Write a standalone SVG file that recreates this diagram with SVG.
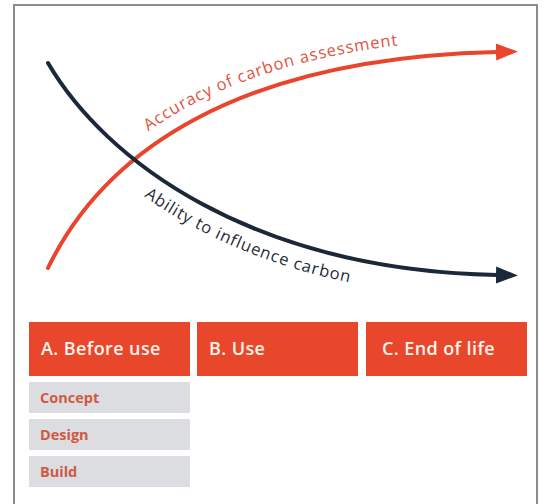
<svg xmlns="http://www.w3.org/2000/svg" width="544" height="504" viewBox="0 0 544 504">
  <style>
    .frame { fill: #ffffff; stroke: #8c8c8c; stroke-width: 2; }
    .curve { fill: none; stroke-width: 4; stroke-linecap: round; }
    .red { stroke: #e8452c; }
    .dark { stroke: #1b2838; }
    .lbl { font-family: "Open Sans", "Noto Sans", sans-serif; font-size: 16.5px; font-weight: 500; letter-spacing: 0.9px; }
    .phase { fill: #e8472b; }
    .phase-text { font-family: "Open Sans", "Noto Sans", sans-serif; font-size: 18px; font-weight: 600; letter-spacing: 0.4px; fill: #fff4ec; }
    .stage { fill: #dcdde0; }
    .stage-text { font-family: "Open Sans", "Noto Sans", sans-serif; font-size: 14.5px; font-weight: 700; fill: #cf5a44; }
  </style>
  <defs>
    <marker id="arrow-red" markerUnits="userSpaceOnUse" markerWidth="24" markerHeight="18" refX="1" refY="8.5" orient="auto">
      <path d="M0,0 L22,8.5 L0,17 z" fill="#e8452c"/>
    </marker>
    <marker id="arrow-dark" markerUnits="userSpaceOnUse" markerWidth="24" markerHeight="18" refX="1" refY="8.5" orient="auto">
      <path d="M0,0 L22,8.5 L0,17 z" fill="#1b2838"/>
    </marker>
    <!-- baselines for the curve labels, running parallel to each curve -->
    <path id="accuracy-base" d="M42,255 C99,137 234,45 491,39"/>
    <path id="ability-base" d="M40,87 C97,184 243,293 490,298"/>
  </defs>

  <rect class="frame" x="14" y="5" width="523" height="510"/>

  <g id="connectors">
    <path id="accuracy-curve" class="curve red" d="M48,268 C105,150 240,58 497,52" marker-end="url(#arrow-red)"/>
    <path id="ability-curve" class="curve dark" d="M48,63 C105,160 250,270 497,275" marker-end="url(#arrow-dark)"/>
    <text class="lbl" fill="#e0533c"><textPath href="#accuracy-base" startOffset="165">Accuracy of carbon assessment</textPath></text>
    <text class="lbl" fill="#1f2a36"><textPath href="#ability-base" startOffset="152">Ability to influence carbon</textPath></text>
  </g>

  <g id="phase-a">
    <rect class="phase" x="29" y="322" width="161" height="54"/>
    <text class="phase-text" x="41" y="355">A. Before use</text>
  </g>
  <g id="phase-b">
    <rect class="phase" x="197" y="322" width="161" height="54"/>
    <text class="phase-text" x="209" y="355">B. Use</text>
  </g>
  <g id="phase-c">
    <rect class="phase" x="366" y="322" width="161" height="54"/>
    <text class="phase-text" x="382" y="355">C. End of life</text>
  </g>

  <g id="stage-concept">
    <rect class="stage" x="29" y="382" width="161" height="31"/>
    <text class="stage-text" x="40" y="403">Concept</text>
  </g>
  <g id="stage-design">
    <rect class="stage" x="29" y="419" width="161" height="31"/>
    <text class="stage-text" x="40" y="440">Design</text>
  </g>
  <g id="stage-build">
    <rect class="stage" x="29" y="456" width="161" height="31"/>
    <text class="stage-text" x="40" y="477">Build</text>
  </g>
</svg>
